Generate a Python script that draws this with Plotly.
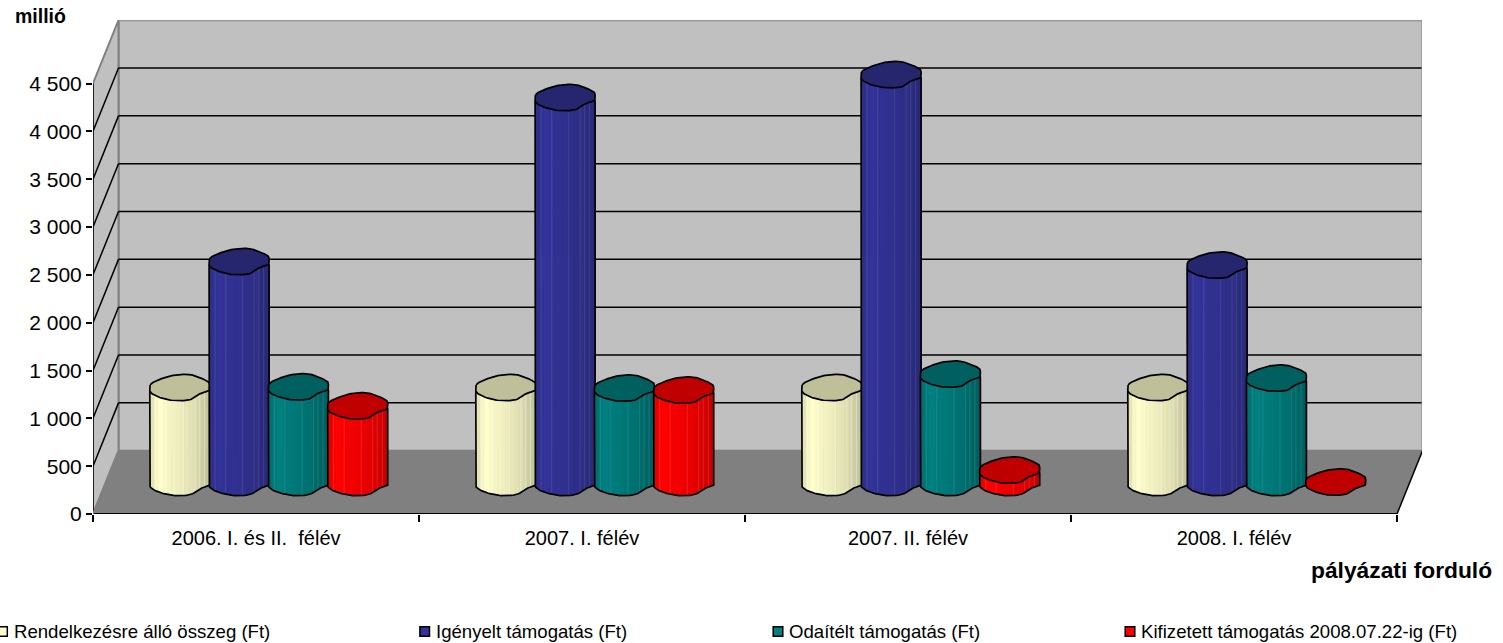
import numpy as np
import plotly.graph_objects as go

categories = ["2006. I. és II.  félév", "2007. I. félév", "2007. II. félév", "2008. I. félév"]
series_names = ["Rendelkezésre álló összeg (Ft)", "Igényelt támogatás (Ft)",
                "Odaítélt támogatás (Ft)", "Kifizetett támogatás 2008.07.22-ig (Ft)"]
rendelkezesre = [993, 993, 993, 993]
igenyelt = [2310, 4024, 4263, 2273]
odaitelt = [1000, 987, 1133, 1091]
kifizetett = [801, 966, 130, 5]
y_ticks = [0, 500, 1000, 1500, 2000, 2500, 3000, 3500, 4000, 4500]
y_labels = ["0", "500", "1 000", "1 500", "2 000", "2 500", "3 000", "3 500", "4 000", "4 500"]

values = [rendelkezesre, igenyelt, odaitelt, kifizetett]
W, H = 1503, 643
FRONT_L, FRONT_R, BACK_R = 93, 1397, 1422
BOTTOM, TOP = 514, 20.2
PX_X = (FRONT_R - FRONT_L) / 4
PX_Y = 430.5 / 4500
DX = 25.5 / PX_X
DY = 63.3 / PX_Y
Y_MAX = 4500

light = [("#FFFFCC", "#C4C49E", "#BFBF99", "#FFFFFF"), ("#333399", "#2A2A78", "#26266E", "#6A6AB8"),
         ("#008080", "#005F5F", "#006060", "#4CA6A6"), ("#FF0000", "#C80000", "#C00000", "#FF6A6A")]
legend_fill = ["#FFFFCC", "#333399", "#008080", "#FF0000"]
legend_x = [2.5, 424.7, 778, 1130]

profile = np.array([(-0.99, 0.19), (-0.71, 0.59), (-0.21, 0.95), (0.34, 1.0), (0.84, 0.59), (0.99, 0.32),
                    (0.99, -0.22), (0.68, -0.49), (0.34, -0.97), (-0.21, -1.03), (-0.71, -0.76), (-0.99, -0.35)])


def smooth(p, n=10):
    out = []
    m = len(p)
    for i in range(m):
        a, b, c, d = p[(i - 1) % m], p[i], p[(i + 1) % m], p[(i + 2) % m]
        for t in np.linspace(0, 1, n, endpoint=False):
            out.append(0.5 * (2 * b + (c - a) * t + (2 * a - 5 * b + 4 * c - d) * t ** 2 + (3 * b - a - 3 * c + d) * t ** 3))
    out = np.array(out)
    out[:, 0] = np.clip(out[:, 0], -1, 1)
    return out


outline = smooth(profile)
outline = np.vstack([outline, outline[0]])
lower_idx = np.arange(6 * 10, 12 * 10 + 1)
lower = outline[lower_idx][::-1]
lower_u, lower_v = lower[:, 0], lower[:, 1]
order = np.argsort(lower_u)
lower_u, lower_v = lower_u[order], lower_v[order]

HALF_W = 30 / PX_X
HALF_H = 12.7 / PX_Y
STEP = 59.3 / PX_X
N_STRIP = 14
edges = np.linspace(-1, 1, N_STRIP + 1)
shade_at = np.array([0.55, 0.85, 1.0, 0.9, 0.82, 0.78, 0.72, 0.66, 0.58, 0.5, 0.4, 0.28, 0.14, 0.0])
light_u = [-0.8, -0.45, 0.12, 0.5, 0.65, 0.82]


def blend(c1, c2, t):
    a = [int(c1[i:i + 2], 16) for i in (1, 3, 5)]
    b = [int(c2[i:i + 2], 16) for i in (1, 3, 5)]
    return "rgb(%d,%d,%d)" % tuple(round(b[k] + (a[k] - b[k]) * t) for k in range(3))


fig = go.Figure()


def poly(xs, ys, fill=None, line=None, w=1.5, name=None):
    fig.add_trace(go.Scatter(x=xs, y=ys, mode="lines", fill="toself" if fill else None, fillcolor=fill,
                             line=dict(color=line or "rgba(0,0,0,0)", width=w if line else 0),
                             showlegend=False, hoverinfo="skip", cliponaxis=False, name=name))


def seg(x0, y0, x1, y1, color="#000000", w=1.5):
    poly([x0, x1], [y0, y1], line=color, w=w)


x_end = 4
x_back = x_end + DX
poly([DX, x_back, x_back, DX, DX], [DY, DY, Y_MAX + DY, Y_MAX + DY, DY], fill="#C0C0C0", line="#808080", w=2)
poly([0, DX, DX, 0, 0], [0, DY, Y_MAX + DY, Y_MAX, 0], fill="#C0C0C0", line="#808080", w=2)
poly([0, DX, x_back, x_end, 0], [0, DY, DY, 0, 0], fill="#808080")
for t in y_ticks[1:-1]:
    seg(0, t, DX, t + DY)
    seg(DX, t + DY, x_back - 0.003, t + DY)
seg(0, 0, 0, Y_MAX, w=1.5)
seg(0, 0, x_end, 0, w=2)
seg(x_end, 0, x_back, DY, w=1.5)
seg(0, 0, DX, DY, color="#808080", w=1.5)

for s, vals in enumerate(values):
    c_hi, c_lo, c_top, c_line = light[s]
    offset = (s - 1.5) * STEP
    centers = [i + 0.5 + DX / 2 + offset for i in range(len(categories))]
    for k in range(N_STRIP):
        xs, ys = [], []
        for cx, v in zip(centers, vals):
            if v < 60:
                continue
            us = np.linspace(edges[k], min(edges[k + 1] + 0.02, 1), 5)
            vs = np.interp(us, lower_u, lower_v)
            xs += list(cx + us * HALF_W) + list(cx + us[::-1] * HALF_W) + [None]
            ys += list(DY / 2 + v + vs * HALF_H) + list(DY / 2 + vs[::-1] * HALF_H) + [None]
        poly(xs, ys, fill=blend(c_hi, c_lo, float(shade_at[k])), name=series_names[s])
    lx, ly = [], []
    for cx, v in zip(centers, vals):
        if v < 60:
            continue
        for u in light_u:
            vv = float(np.interp(u, lower_u, lower_v))
            lx += [cx + u * HALF_W, cx + u * HALF_W, None]
            ly += [DY / 2 + v + vv * HALF_H, DY / 2 + vv * HALF_H, None]
    fig.add_trace(go.Scatter(x=lx, y=ly, mode="lines", line=dict(color=c_line, width=1), opacity=0.3,
                             showlegend=False, hoverinfo="skip", cliponaxis=False))
    ox, oy, tx, ty = [], [], [], []
    for cx, v in zip(centers, vals):
        if v >= 60:
            left = float(np.interp(-1, lower_u, lower_v))
            right = float(np.interp(1, lower_u, lower_v))
            ox += [cx - HALF_W, cx - HALF_W] + list(cx + lower_u * HALF_W) + [cx + HALF_W, cx + HALF_W, None]
            oy += [DY / 2 + v + left * HALF_H, DY / 2 + left * HALF_H] + list(DY / 2 + lower_v * HALF_H) + \
                  [DY / 2 + right * HALF_H, DY / 2 + v + right * HALF_H, None]
        tx += list(cx + outline[:, 0] * HALF_W) + [None]
        ty += list(DY / 2 + v + outline[:, 1] * HALF_H) + [None]
    poly(ox, oy, line="#000000", w=1.7)
    poly(tx, ty, fill=c_top, line="#000000", w=1.7)

FONT = "Liberation Sans, Arial, sans-serif"
shapes, annotations = [], []
for name, fillc, lx in zip(series_names, legend_fill, legend_x):
    shapes.append(dict(type="rect", xref="paper", yref="paper", x0=(lx - 4.8) / W, x1=(lx + 4.8) / W,
                       y0=1 - 636.3 / H, y1=1 - 626.7 / H, fillcolor=fillc, line=dict(color="#000000", width=1.5)))
    annotations.append(dict(xref="paper", yref="paper", x=(lx + 9) / W, y=1 - 631 / H, text=name, showarrow=False,
                            xanchor="left", yanchor="middle", font=dict(family=FONT, size=18.6, color="#000000")))
annotations.append(dict(xref="paper", yref="paper", x=13 / W, y=1 - 16 / H, text="<b>millió</b>", showarrow=False,
                        xanchor="left", yanchor="middle", font=dict(family=FONT, size=19.5, color="#000000")))
annotations.append(dict(xref="paper", yref="paper", x=1494 / W, y=1 - 570 / H, text="<b>pályázati forduló</b>", showarrow=False,
                        xanchor="right", yanchor="middle", font=dict(family=FONT, size=22.8, color="#000000")))

fig.update_layout(
    width=W, height=H, margin=dict(l=0, r=0, t=0, b=0, autoexpand=False), paper_bgcolor="#FFFFFF", plot_bgcolor="rgba(0,0,0,0)",
    showlegend=False, shapes=shapes, annotations=annotations,
    font=dict(family=FONT, color="#000000"),
    xaxis=dict(domain=[FRONT_L / W, BACK_R / W], range=[0, 4 + (BACK_R - FRONT_R) / PX_X], showgrid=False, zeroline=False,
               showline=False, tickmode="array", tickvals=[0.5, 1.5, 2.5, 3.5], ticktext=categories,
               ticks="", tickfont=dict(size=20), ticklabelstandoff=10,
               minor=dict(tickmode="array", tickvals=[0, 1, 2, 3, 4], ticks="outside", ticklen=7, tickwidth=1.5,
                          tickcolor="#000000", showgrid=False)),
    yaxis=dict(domain=[1 - BOTTOM / H, 1 - TOP / H], range=[0, (BOTTOM - TOP) / PX_Y], showgrid=False, zeroline=False,
               showline=False, tickmode="array", tickvals=y_ticks, ticktext=y_labels, ticks="outside", ticklen=6,
               tickwidth=1.5, tickcolor="#000000", tickfont=dict(size=21)),
)
fig.write_html("out.html", config=dict(displayModeBar=False),
               post_script="document.body.style.margin='0';document.body.style.overflow='hidden';")
